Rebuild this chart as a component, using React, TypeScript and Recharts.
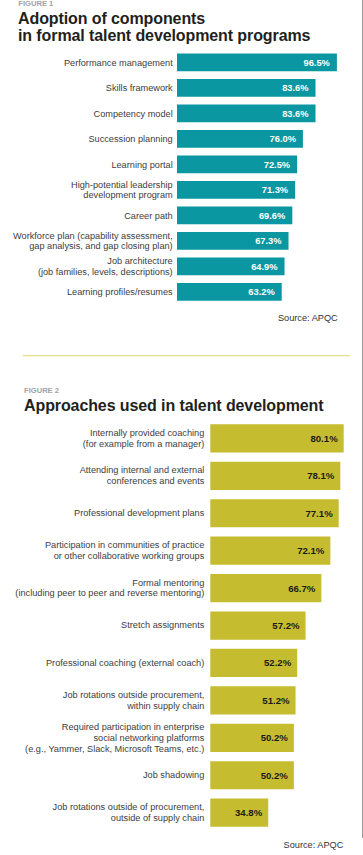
import React from 'react';
import { BarChart, Bar, XAxis, YAxis, LabelList } from 'recharts';

const fig1Categories = [
  'Performance management',
  'Skills framework',
  'Competency model',
  'Succession planning',
  'Learning portal',
  'High-potential leadership\ndevelopment program',
  'Career path',
  'Workforce plan (capability assessment,\ngap analysis, and gap closing plan)',
  'Job architecture\n(job families, levels, descriptions)',
  'Learning profiles/resumes',
];
const fig1Values = [96.5, 83.6, 83.6, 76.0, 72.5, 71.3, 69.6, 67.3, 64.9, 63.2];

const fig2Categories = [
  'Internally provided coaching\n(for example from a manager)',
  'Attending internal and external\nconferences and events',
  'Professional development plans',
  'Participation in communities of practice\nor other collaborative working groups',
  'Formal mentoring\n(including peer to peer and reverse mentoring)',
  'Stretch assignments',
  'Professional coaching (external coach)',
  'Job rotations outside procurement,\nwithin supply chain',
  'Required participation in enterprise\nsocial networking platforms\n(e.g., Yammer, Slack, Microsoft Teams, etc.)',
  'Job shadowing',
  'Job rotations outside of procurement,\noutside of supply chain',
];
const fig2Values = [80.1, 78.1, 77.1, 72.1, 66.7, 57.2, 52.2, 51.2, 50.2, 50.2, 34.8];

const fig1Data = fig1Categories.map((name, i) => ({ name, value: fig1Values[i] }));
const fig2Data = fig2Categories.map((name, i) => ({ name, value: fig2Values[i] }));

const FONT = "'Liberation Sans', Arial, Helvetica, sans-serif";
const TEAL = '#0a97a1';
const OLIVE = '#c6bc2f';
const LABEL_COLOR = '#3d3d3d';

const makeTick = (gap: number, lineHeight: number, fontSize: number) => (props: any) => {
  const { x, y, payload } = props;
  const lines = String(payload.value).split('\n');
  const first = -((lines.length - 1) * lineHeight) / 2 + fontSize * 0.36;
  return (
    <text x={x - gap} y={y} textAnchor="end" fontSize={fontSize} fill={LABEL_COLOR} fontFamily={FONT}>
      {lines.map((l, i) => (
        <tspan key={i} x={x - gap} dy={i === 0 ? first : lineHeight}>
          {l}
        </tspan>
      ))}
    </text>
  );
};

const fmt = (v: any) => `${Number(v).toFixed(1)}%`;

export default function App() {
  return (
    <div style={{ position: 'absolute', left: 0, top: 0, width: 363, height: 855, background: '#fff', overflow: 'hidden' }}>
      <div style={{ position: 'absolute', left: 0, top: 0 }}>
        <BarChart
          width={363}
          height={310}
          data={fig1Data}
          layout="vertical"
          margin={{ top: 49.5, right: 20.3, bottom: 5.5, left: 0 }}
        >
          <XAxis type="number" domain={[0, 100]} hide />
          <YAxis
            type="category"
            dataKey="name"
            width={177}
            axisLine={false}
            tickLine={false}
            tickSize={0}
            tickMargin={0}
            interval={0}
            tick={makeTick(4.3, 10.7, 9.2)}
          />
          <Bar dataKey="value" fill={TEAL} barSize={17.7} isAnimationActive={false}>
            <LabelList
              dataKey="value"
              position="insideRight"
              offset={7}
              formatter={fmt}
              fill="#ffffff"
              fontSize={9.3}
              fontWeight="bold"
              fontFamily={FONT}
            />
          </Bar>
        </BarChart>
      </div>
      <div style={{ position: 'absolute', left: 0, top: 400 }}>
        <BarChart
          width={363}
          height={440}
          data={fig2Data}
          layout="vertical"
          margin={{ top: 19.3, right: 2.85, bottom: 9, left: 0 }}
        >
          <XAxis type="number" domain={[0, 90]} hide />
          <YAxis
            type="category"
            dataKey="name"
            width={210.3}
            axisLine={false}
            tickLine={false}
            tickSize={0}
            tickMargin={0}
            interval={0}
            tick={makeTick(6, 10.8, 9.2)}
          />
          <Bar dataKey="value" fill={OLIVE} barSize={28.2} isAnimationActive={false}>
            <LabelList
              dataKey="value"
              position="insideRight"
              offset={6}
              formatter={fmt}
              fill="#1a1a1a"
              fontSize={9.6}
              fontWeight="bold"
              fontFamily={FONT}
            />
          </Bar>
        </BarChart>
      </div>
      <svg
        width={363}
        height={855}
        style={{ position: 'absolute', left: 0, top: 0, pointerEvents: 'none' }}
        fontFamily={FONT}
      >
        <text x={18.3} y={6.2} fontSize={7.6} fontWeight="bold" fill="#a3a3a3">FIGURE 1</text>
        <text x={18} y={24} fontSize={16} fontWeight="bold" fill="#231f20" letterSpacing={-0.1}>Adoption of components</text>
        <text x={18} y={40.5} fontSize={16} fontWeight="bold" fill="#231f20" letterSpacing={-0.1}>in formal talent development programs</text>
        <text x={337.7} y={321} fontSize={9.2} fill="#333" textAnchor="end">Source: APQC</text>
        <line x1={22.7} x2={350} y1={355.7} y2={355.7} stroke="#e3df8a" strokeWidth={1.2} />
        <text x={24} y={393} fontSize={7.6} fontWeight="bold" fill="#a3a3a3">FIGURE 2</text>
        <text x={24} y={410.5} fontSize={16} fontWeight="bold" fill="#231f20" letterSpacing={-0.1}>Approaches used in talent development</text>
        <text x={343.3} y={847.6} fontSize={9.2} fill="#333" textAnchor="end">Source: APQC</text>
        <line x1={362.5} x2={362.5} y1={0} y2={838} stroke="#9a9a9a" strokeWidth={1} />
      </svg>
    </div>
  );
}
